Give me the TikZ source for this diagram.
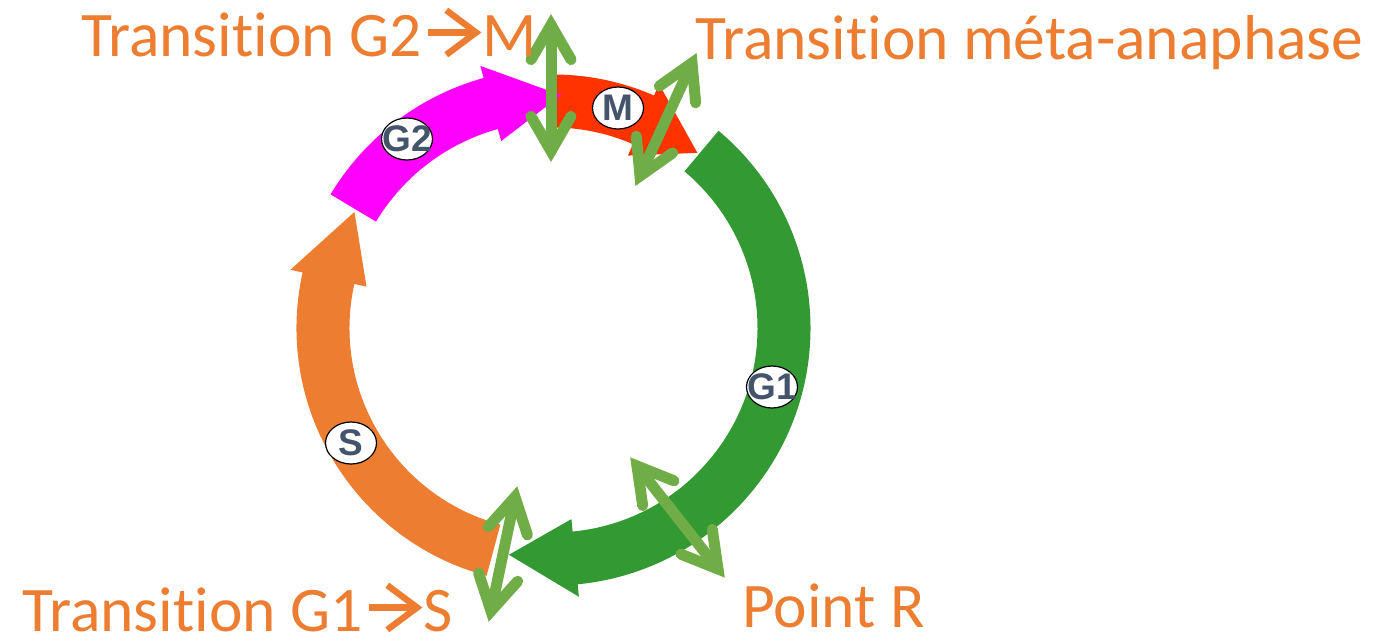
\documentclass[tikz,border=0pt]{standalone}
\usepackage{fontspec}
\setmainfont{Carlito}[RawFeature={-liga;-clig;-calt;-dlig}]
\newfontfamily\labfont{Liberation Sans}
\usetikzlibrary{calc,shapes.geometric}
\definecolor{txtorange}{HTML}{ED7D31}
\definecolor{sorange}{HTML}{ED7D31}
\definecolor{g2mag}{HTML}{FF00FF}
\definecolor{mred}{HTML}{FF3300}
\definecolor{g1green}{HTML}{339933}
\definecolor{lgreen}{HTML}{70AD47}
\definecolor{labtext}{HTML}{44546A}
\newcommand\txtarrow{\hspace{0.05em}\tikz[baseline=0pt,x=1em,y=1em]{%
  \draw[txtorange,line width=0.1em,line cap=butt] (0,0.37) -- (0.76,0.37);
  \draw[txtorange,line width=0.1em,line cap=butt,line join=miter] (0.29,0.72) -- (0.76,0.37) -- (0.29,0.02);}\hspace{0.05em}}
\newcommand\cycarc[5]{%
  \fill[#1] (#2:{#5+26.5}) arc[start angle=#2, end angle=#3, radius={#5+26.5}]
    -- (#3:{#5+39}) -- (#4:#5) -- (#3:{#5-39}) -- (#3:{#5-26.5})
    arc[start angle=#3, end angle=#2, radius={#5-26.5}] -- cycle;}
\newcommand\dblarrow[2]{%
  \draw[darrow] (#1) -- (#2);
  \draw[darrow] ($(#1)!40pt!30:(#2)$) -- (#1) -- ($(#1)!40pt!-30:(#2)$);
  \draw[darrow] ($(#2)!40pt!30:(#1)$) -- (#2) -- ($(#2)!40pt!-30:(#1)$);}
\tikzset{
  darrow/.style={draw=lgreen,line width=11pt,line cap=round,line join=miter},
  title/.style={text=txtorange,font=\fontsize{63.5}{74}\selectfont,inner sep=0pt,anchor=base west},
  phase/.style={ellipse,draw=black,line width=1.2pt,fill=white,minimum width=51pt,minimum height=42pt,inner sep=0pt},
  phasetxt/.style={text=labtext,font=\labfont\bfseries\fontsize{37}{40}\selectfont,inner sep=0pt}
}
\begin{document}
\begin{tikzpicture}[x=1pt,y=1pt]
\useasboundingbox (0,0) rectangle (1376,-643);
\begin{scope}[shift={(553,-328)}]
  \cycarc{mred}{91}{66.5}{50.5}{227}
  \cycarc{g2mag}{149}{105.5}{88}{233}
  \cycarc{g1green}{50}{-84.5}{-101}{231}
  \cycarc{sorange}{255}{167.5}{149.7}{230}
\end{scope}
% double arrows
\coordinate (a1) at (551,-25);  \coordinate (b1) at (551,-151);
\coordinate (a2) at (692,-63);  \coordinate (b2) at (640,-176);
\coordinate (a3) at (515,-497); \coordinate (b3) at (491,-611);
\coordinate (a4) at (637,-466); \coordinate (b4) at (718,-569);
\dblarrow{a1}{b1}
\dblarrow{a2}{b2}
\dblarrow{a3}{b3}
\dblarrow{a4}{b4}
% phase labels
\node[phase,label={[phasetxt]center:G2}] (g2) at (407,-139) {};
\node[phase,label={[phasetxt]center:M}] (m) at (618,-108) {};
\node[phase,label={[phasetxt]center:G1}] (g1) at (772,-387) {};
\node[phase,label={[phasetxt]center:S}] (s) at (351,-443) {};
% titles
\node[title] (t1) at (81,-56) {Transition G2\txtarrow M};
\node[title] (t2) at (695,-59) {Transition méta-anaphase};
\node[title] (t3) at (22,-631) {Transition G1\txtarrow S};
\node[title] (t4) at (742,-627) {Point R};
\end{tikzpicture}
\end{document}
